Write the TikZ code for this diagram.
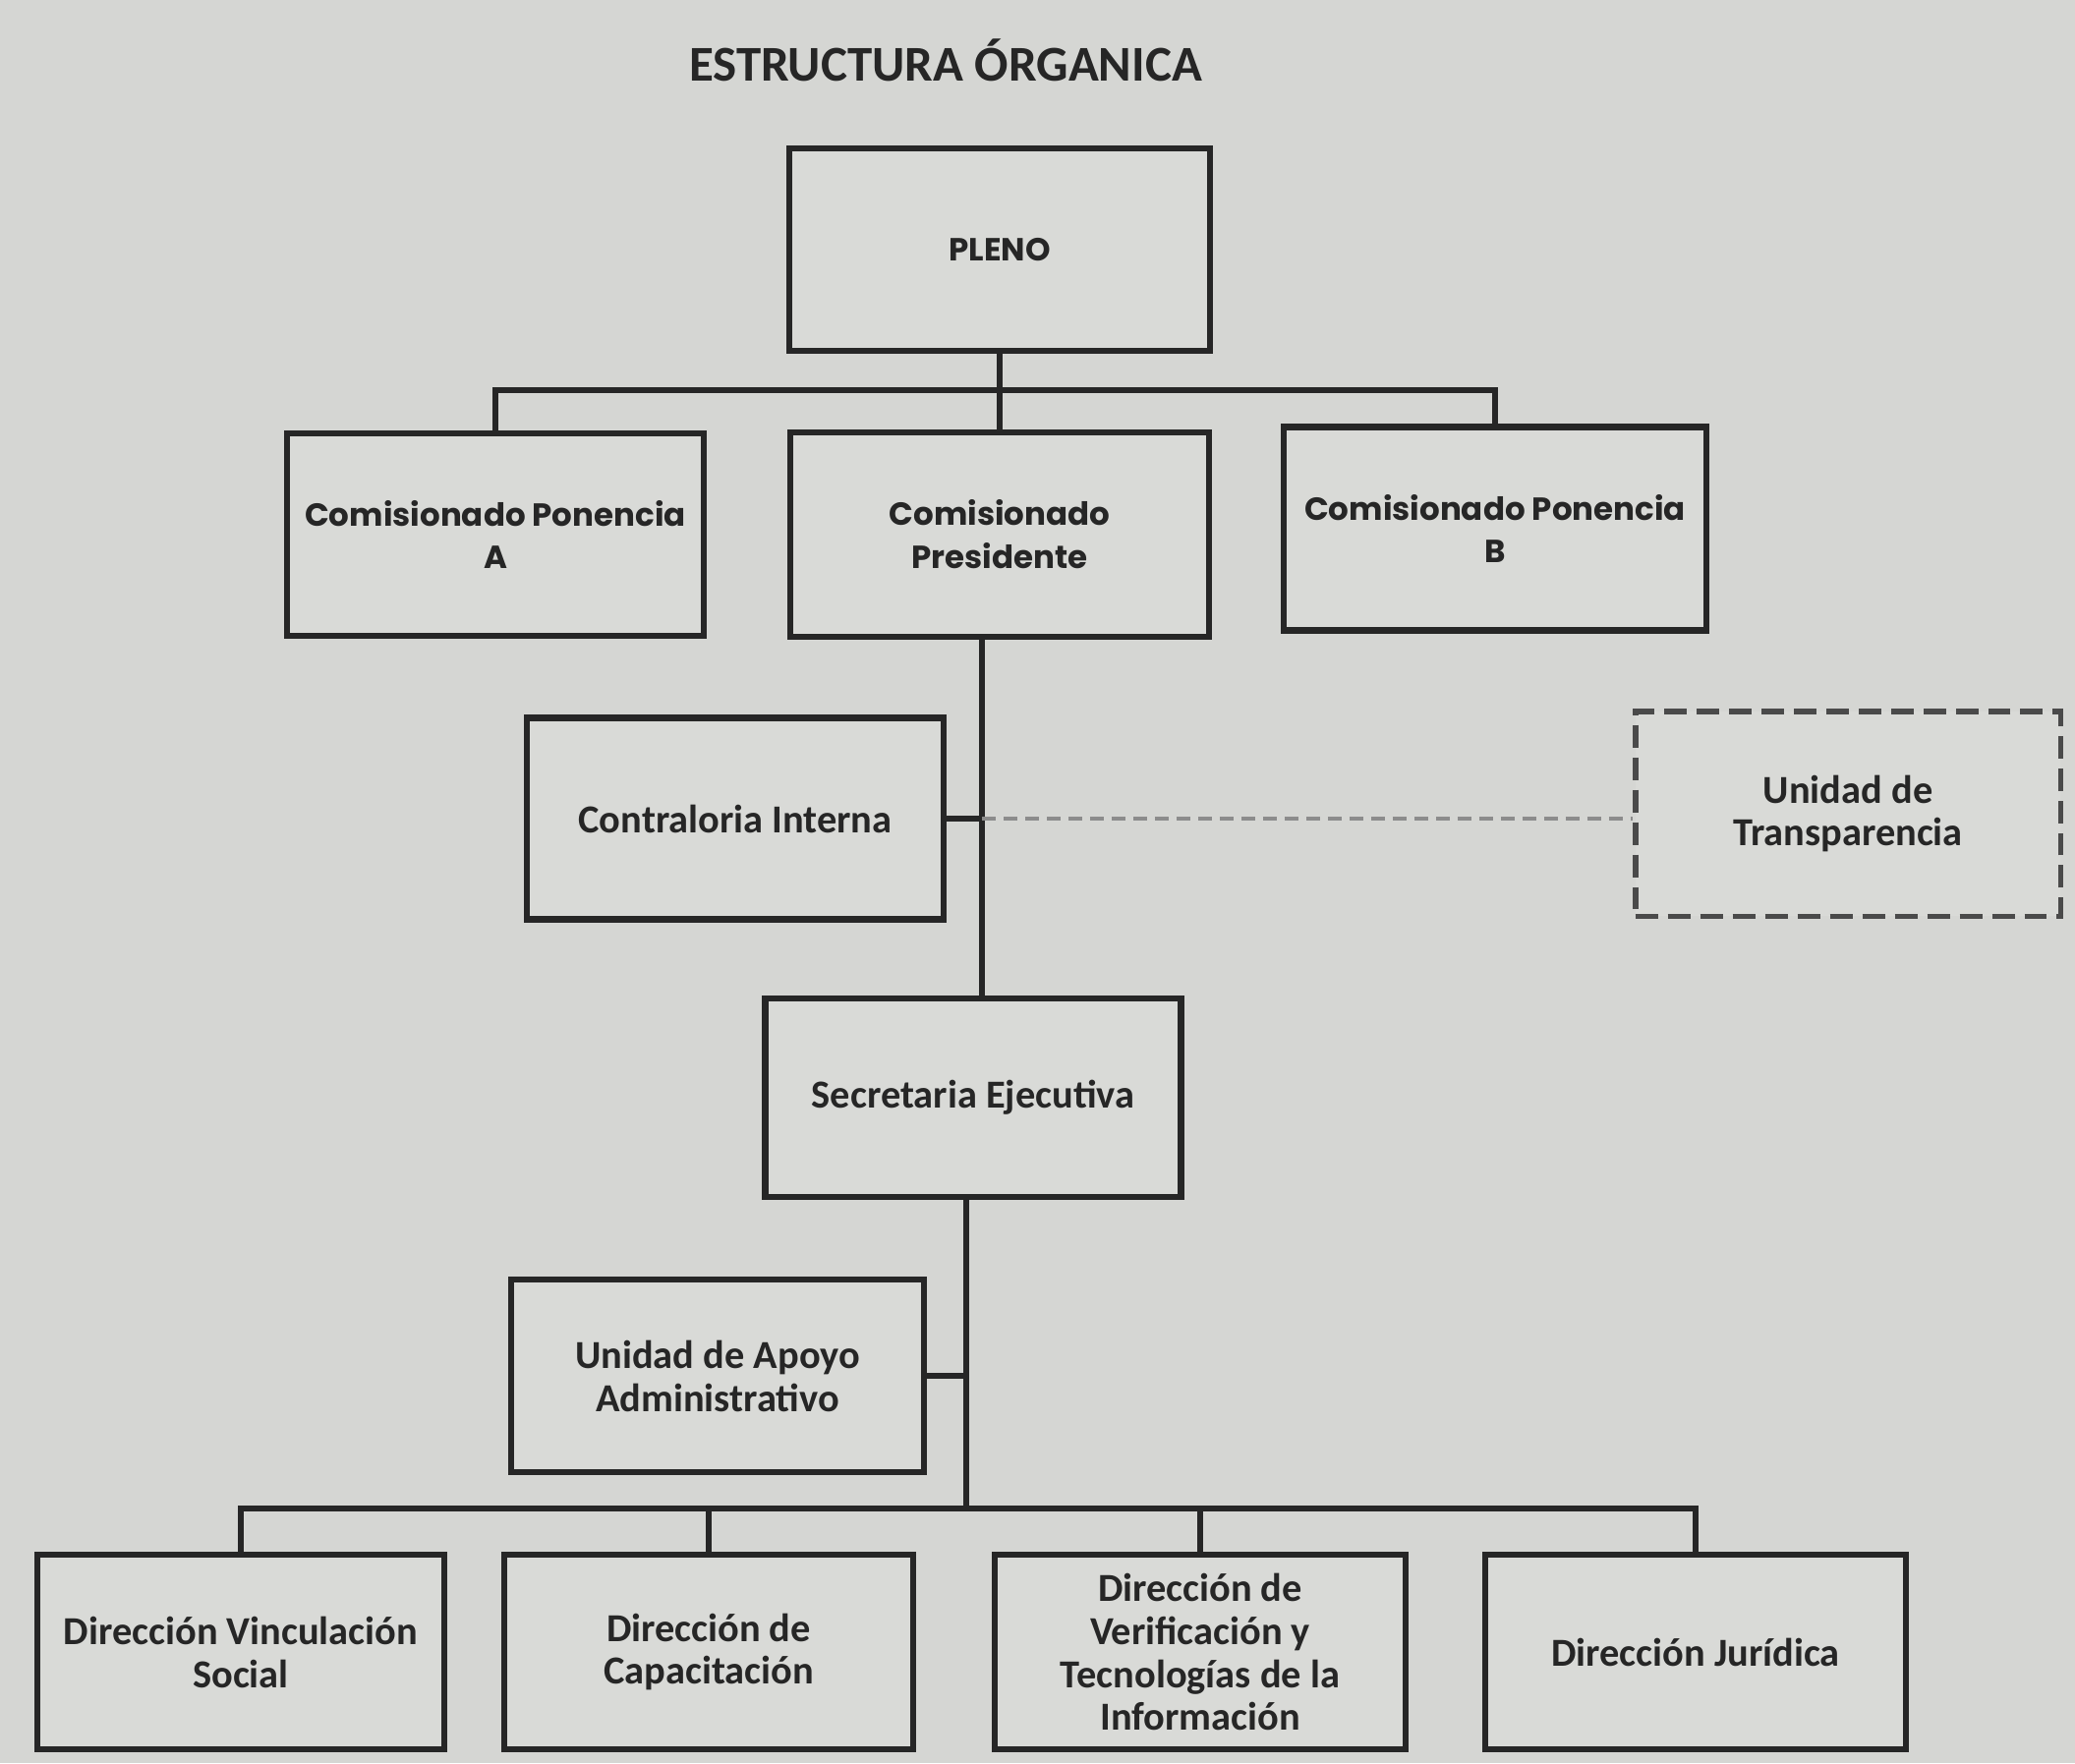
\documentclass[tikz,border=0pt]{standalone}
\usepackage{fontspec}
\setmainfont{Carlito}
\newfontfamily\popfont{Poppins}
\definecolor{paper}{HTML}{D5D6D3}
\definecolor{boxfill}{HTML}{D9DAD7}
\definecolor{ink}{HTML}{262626}
\definecolor{dashgray}{HTML}{8C8C8C}
\definecolor{dashbox}{HTML}{4A4A4A}
\tikzset{
  orgbox/.style={draw=ink, line width=3.8pt, fill=boxfill, align=center, text=ink,
    font=\fontsize{23}{25}\selectfont\bfseries, inner sep=0pt},
  popbox/.style={orgbox, font=\popfont\fontsize{18.5}{25}\selectfont\bfseries},
  conn/.style={draw=ink, line width=3.2pt},
  dashconn/.style={draw=dashgray, line width=2.6pt, dash pattern=on 0.28cm off 0.16cm},
  dashedbox/.style={orgbox, draw=dashbox, line width=3.4pt, dash pattern=on 0.46cm off 0.2cm}
}
\begin{document}
\begin{tikzpicture}[x=0.02cm,y=-0.02cm]
\fill[paper] (0,0) rectangle (2111,1794);
\useasboundingbox (0,0) rectangle (2111,1794);

\node[font=\fontsize{29}{34}\selectfont\bfseries, text=ink] (title) at (962,61) {ESTRUCTURA ÓRGANICA};

\node[popbox, minimum width=8.56cm, minimum height=4.12cm] (pleno) at (1017,254) {PLENO};
\node[popbox, minimum width=8.48cm, minimum height=4.12cm] (A) at (504,544) {Comisionado Ponencia\\A};
\node[popbox, minimum width=8.52cm, minimum height=4.16cm] (pres) at (1017,544) {Comisionado\\Presidente};
\node[popbox, minimum width=8.6cm, minimum height=4.14cm] (B) at (1521,538) {Comisionado Ponencia\\B};

\node[orgbox, minimum width=8.48cm, minimum height=4.1cm] (ci) at (748,833) {Contraloria Interna};
\node[dashedbox, minimum width=8.66cm, minimum height=4.18cm] (ut) at (1880,828) {Unidad de\\Transparencia};

\node[orgbox, minimum width=8.46cm, minimum height=4.04cm] (se) at (990,1117) {Secretaria Ejecutiva};
\node[orgbox, minimum width=8.4cm, minimum height=3.92cm] (ua) at (730,1400) {Unidad de Apoyo\\Administrativo};

\node[orgbox, minimum width=8.28cm, minimum height=3.96cm] (dv) at (245,1681) {Dirección Vinculación\\Social};
\node[orgbox, minimum width=8.32cm, minimum height=3.96cm] (dc) at (721,1681) {Dirección de\\Capacitación};
\node[orgbox, minimum width=8.36cm, minimum height=3.96cm] (dvt) at (1221,1681) {Dirección de\\Verificación y\\Tecnologías de la\\Información};
\node[orgbox, minimum width=8.56cm, minimum height=3.96cm] (dj) at (1725,1681) {Dirección Jurídica};

\coordinate (bus1) at (0,397);
\coordinate (bus2) at (0,1535);
\coordinate (s1) at (999,0);
\coordinate (s2) at (983,0);

% top level
\draw[conn] (pleno.south) -- (pres.north);
\draw[conn] (A.north) -- (A.north |- bus1) -- (B.north |- bus1) -- (B.north);

% presidente to secretaria
\draw[conn] (pres.south -| s1) -- (se.north -| s1);
\draw[conn] (ci.east) -- (ci.east -| s1);
\draw[dashconn] (ci.east -| s1) -- (ci.east -| ut.west);

% secretaria to direcciones
\draw[conn] (se.south -| s2) -- (bus2 -| s2);
\draw[conn] (ua.east) -- (ua.east -| s2);
\draw[conn] (dv.north) -- (dv.north |- bus2) -- (dj.north |- bus2) -- (dj.north);
\draw[conn] (dc.north) -- (dc.north |- bus2);
\draw[conn] (dvt.north) -- (dvt.north |- bus2);
\end{tikzpicture}
\end{document}
